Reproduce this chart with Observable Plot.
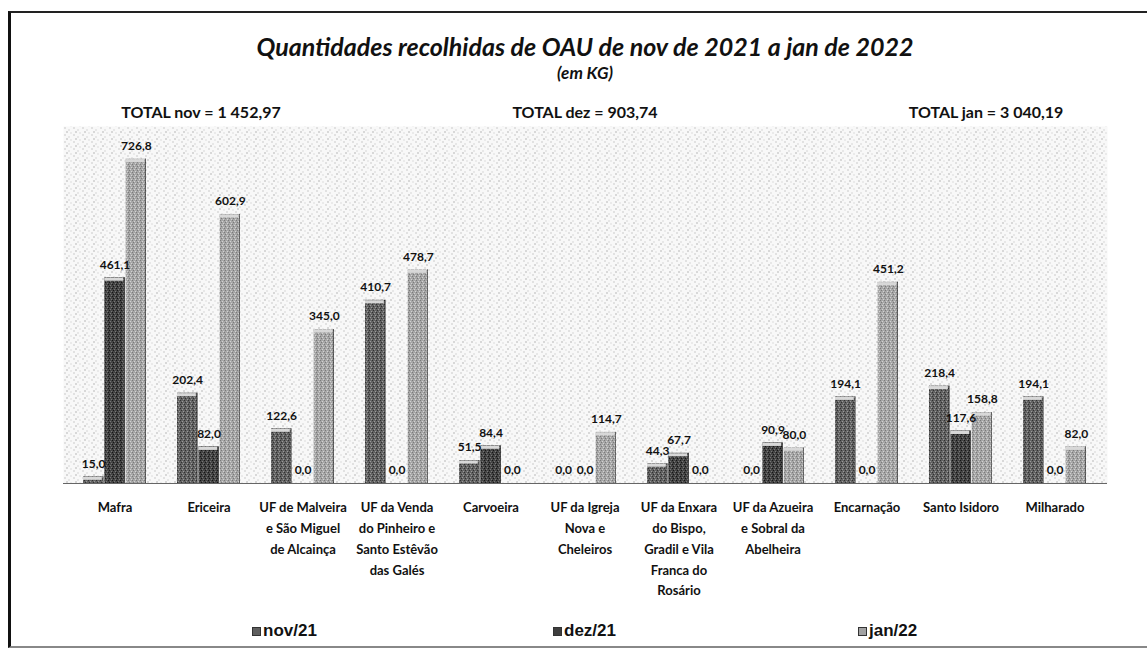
<!DOCTYPE html>
<html><head><meta charset="utf-8">
<script src="https://cdn.jsdelivr.net/npm/d3@7"></script>
<script src="https://cdn.jsdelivr.net/npm/@observablehq/plot@0.6"></script>
<style>
body{margin:0;background:#fff;}
#wrap{position:relative;width:1147px;height:650px;overflow:hidden;font-family:Lato,"Liberation Sans",sans-serif;}
#frame{position:absolute;left:8px;top:11px;width:1145px;height:637px;border-left:3px solid #111;border-top:2px solid #222;border-bottom:2px solid #888;box-sizing:border-box;}
#chart{position:absolute;left:0;top:0;}
.t{position:absolute;white-space:nowrap;color:#111;font-weight:bold;}
.title{left:0;width:1170px;text-align:center;font-style:italic;}
.sw{display:inline-block;width:9px;height:9px;margin-right:2px;vertical-align:0px;border:1px solid #333;box-sizing:border-box;}
</style>
</head><body>
<div id="wrap">
  <div id="chart"></div>
  <div id="frame"></div>
  <div class="t title" id="title" style="top:31px;font-size:25px;"></div>
  <div class="t title" id="subtitle" style="top:62px;font-size:17px;"></div>
  <div id="totals"></div>
  <div id="legend"></div>
</div>
<script>
const categories = ["Mafra","Ericeira","UF de Malveira e São Miguel de Alcainça","UF da Venda do Pinheiro e Santo Estêvão das Galés","Carvoeira","UF da Igreja Nova e Cheleiros","UF da Enxara do Bispo, Gradil e Vila Franca do Rosário","UF da Azueira e Sobral da Abelheira","Encarnação","Santo Isidoro","Milharado"];
const tickLabels = ["Mafra","Ericeira","UF de Malveira\ne São Miguel\nde Alcainça","UF da Venda\ndo Pinheiro e\nSanto Estêvão\ndas Galés","Carvoeira","UF da Igreja\nNova e\nCheleiros","UF da Enxara\ndo Bispo,\nGradil e Vila\nFranca do\nRosário","UF da Azueira\ne Sobral da\nAbelheira","Encarnação","Santo Isidoro","Milharado"];
const months = ["nov/21","dez/21","jan/22"];
const nov = [15.0, 202.4, 122.6, 410.7, 51.5, 0.0, 44.3, 0.0, 194.1, 218.4, 194.1];
const dez = [461.1, 82.0, 0.0, 0.0, 84.4, 0.0, 67.7, 90.9, 0.0, 117.6, 0.0];
const jan = [726.8, 602.9, 345.0, 478.7, 0.0, 114.7, 0.0, 80.0, 451.2, 158.8, 82.0];
const totals = ["TOTAL nov = 1 452,97","TOTAL dez = 903,74","TOTAL jan = 3 040,19"];
const titleText = "Quantidades recolhidas de OAU de nov de 2021 a jan de 2022";
const subtitleText = "(em KG)";

const series = [nov, dez, jan];
const fills = ["url(#pNov)","url(#pDez)","url(#pJan)"];
const swatchColors = ["#5e5e5e","#3e3e3e","#a2a2a2"];

const W = 1147, H = 650, mL = 63, mR = 40, mT = 126, mB = 167;
const padIn = 0.325, padOut = 0.166;
const bw = d3.scaleBand().domain(categories).range([mL, W - mR]).paddingInner(padIn).paddingOuter(padOut).bandwidth();
const w = bw / 3;
const fmt = v => v.toFixed(1).replace(".", ",");
const labelOf = new Map(categories.map((c, i) => [c, tickLabels[i]]));

function defsMark() {
  const ns = "http://www.w3.org/2000/svg";
  const defs = document.createElementNS(ns, "defs");
  const pat = (id, base, dark, light, size) => `<pattern id="${id}" width="${size}" height="${size}" patternUnits="userSpaceOnUse">
    <rect width="${size}" height="${size}" fill="${base}"/>
    <rect x="0" y="0" width="1" height="1" fill="${dark}"/>
    <rect x="2" y="1" width="1" height="1" fill="${light}"/>
    <rect x="1" y="2" width="1" height="1" fill="${dark}"/>
    <rect x="3" y="3" width="1" height="1" fill="${light}"/>
  </pattern>`;
  defs.innerHTML = `
  <pattern id="stip" width="9" height="7" patternUnits="userSpaceOnUse">
    <rect width="9" height="7" fill="#f8f8f8"/>
    <rect x="1" y="1" width="1" height="1" fill="#9a9a9a"/>
    <rect x="5" y="3" width="1" height="1" fill="#b5b5b5"/>
    <rect x="3" y="5" width="1" height="1" fill="#777"/>
    <rect x="7" y="6" width="1" height="1" fill="#c0c0c0"/>
  </pattern>
  ${pat("pNov", "#626262", "#303030", "#9a9a9a", 4)}
  ${pat("pDez", "#444444", "#151515", "#777777", 4)}
  ${pat("pJan", "#a6a6a6", "#7a7a7a", "#d2d2d2", 4)}`;
  return defs;
}

const marks = [
  defsMark,
  Plot.frame({fill: "url(#stip)", stroke: null}),
  Plot.ruleY([0], {stroke: "#666", strokeWidth: 1}),
];
const labelMarks = [];
series.forEach((vals, j) => {
  const rows = categories.map((c, i) => ({cat: c, value: vals[i]}));
  const inL = j * w, inR = (2 - j) * w;
  marks.push(Plot.barY(rows, {x: "cat", y: "value", fill: fills[j], insetLeft: inL, insetRight: inR}));
  marks.push(Plot.barY(rows.filter(d => d.value > 0), {x: "cat", y: "value", fill: "#111", insetLeft: inL + w - 1.5, insetRight: inR}));
  marks.push(Plot.tickY(rows.filter(d => d.value > 0), {x: "cat", y: "value", stroke: "#d8d8d8", strokeWidth: 3, dy: 1.5, insetLeft: inL, insetRight: inR + 1.5}));
  labelMarks.push(Plot.text(rows, {x: "cat", y: "value", text: d => fmt(d.value), dx: (j - 1) * w, dy: -13, fontSize: 12, fontWeight: "bold", fill: "#111", lineAnchor: "middle"}));
});
marks.push(...labelMarks);
marks.push(Plot.axisX({tickSize: 0, tickPadding: 14, tickFormat: d => labelOf.get(d), fontSize: 13, fontWeight: "bold", lineHeight: 1.6, fill: "#111", label: null}));

const chart = Plot.plot({
  width: W, height: H,
  marginTop: mT, marginBottom: mB, marginLeft: mL, marginRight: mR,
  style: {background: "transparent", fontFamily: "Lato, 'Liberation Sans', sans-serif", color: "#111"},
  x: {domain: categories, paddingInner: padIn, paddingOuter: padOut, label: null},
  y: {domain: [0, 800], axis: null},
  marks
});
document.getElementById("chart").append(chart);

document.getElementById("title").textContent = titleText;
document.getElementById("subtitle").textContent = subtitleText;

const totalCenters = [201, 585, 986];
const tDiv = document.getElementById("totals");
totals.forEach((t, i) => {
  const el = document.createElement("div");
  el.className = "t";
  el.style.cssText = `top:102px;left:${totalCenters[i] - 150}px;width:300px;text-align:center;font-size:16px;`;
  el.textContent = t;
  tDiv.append(el);
});

const legendLefts = [252, 553, 858];
const lDiv = document.getElementById("legend");
months.forEach((m, i) => {
  const el = document.createElement("div");
  el.className = "t";
  el.style.cssText = `top:621px;left:${legendLefts[i]}px;font-size:17px;font-family:'Liberation Sans',Arial,sans-serif;`;
  el.innerHTML = `<span class="sw" style="background:${swatchColors[i]}"></span>`;
  el.append(document.createTextNode(m));
  lDiv.append(el);
});
</script>
</body></html>
